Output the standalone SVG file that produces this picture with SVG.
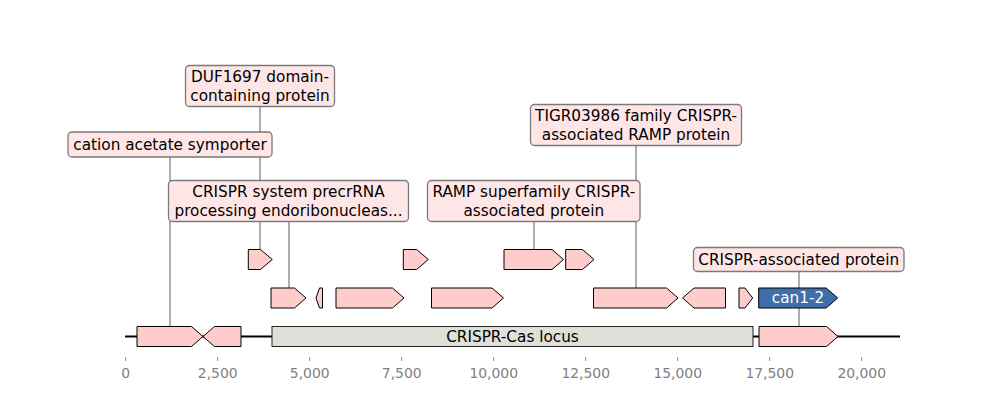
<svg xmlns="http://www.w3.org/2000/svg" width="1000" height="400" viewBox="0 0 1000 400">
<style>
text{font-family:"DejaVu Sans","Liberation Sans",sans-serif}
.f{fill:#ffcccc;stroke:#000;stroke-width:1}
.blue{fill:#3f6eaa;stroke:#000;stroke-width:1}
.locus{fill:#e0e0da;stroke:#222;stroke-width:1}
.box{fill:#ffe6e6;stroke:#7a7a7a;stroke-width:1.3}
.lt{font-size:15.28px;fill:#000;text-anchor:middle}
.lead{stroke:#333;stroke-width:0.8;fill:none}
.tick{stroke:#888;stroke-width:1}
.tl{font-size:13.9px;fill:#808080;text-anchor:middle}
</style>
<rect width="1000" height="400" fill="#fff"/>
<g id="axis">
<line x1="125" y1="336.5" x2="900" y2="336.5" stroke="#000" stroke-width="2"/>
<g class="tick">
<line x1="125.7" y1="357" x2="125.7" y2="361"/>
<line x1="217.7" y1="357" x2="217.7" y2="361"/>
<line x1="309.7" y1="357" x2="309.7" y2="361"/>
<line x1="401.7" y1="357" x2="401.7" y2="361"/>
<line x1="493.7" y1="357" x2="493.7" y2="361"/>
<line x1="585.7" y1="357" x2="585.7" y2="361"/>
<line x1="677.7" y1="357" x2="677.7" y2="361"/>
<line x1="769.7" y1="357" x2="769.7" y2="361"/>
<line x1="861.7" y1="357" x2="861.7" y2="361"/>
</g>
<g class="tl">
<text x="125.7" y="377.5">0</text>
<text x="217.7" y="377.5">2,500</text>
<text x="309.7" y="377.5">5,000</text>
<text x="401.7" y="377.5">7,500</text>
<text x="493.7" y="377.5">10,000</text>
<text x="585.7" y="377.5">12,500</text>
<text x="677.7" y="377.5">15,000</text>
<text x="769.7" y="377.5">17,500</text>
<text x="861.7" y="377.5">20,000</text>
</g>
</g>
<g id="connectors">
<line class="lead" x1="170" y1="157" x2="170" y2="326.5"/>
<line class="lead" x1="260" y1="107" x2="260" y2="249.5"/>
<line class="lead" x1="289" y1="222" x2="289" y2="288"/>
<line class="lead" x1="534" y1="222" x2="534" y2="249.5"/>
<line class="lead" x1="636" y1="146" x2="636" y2="288"/>
<line class="lead" x1="799" y1="271" x2="799" y2="326.5"/>
</g>
<g id="features">
<polygon id="f1" class="f" points="137,326.5 191.5,326.5 203,336.5 191.5,346.5 137,346.5"/>
<polygon id="f2" class="f" points="241,326.5 214.5,326.5 203,336.5 214.5,346.5 241,346.5"/>
<g id="locus"><rect class="locus" x="272" y="326.5" width="481" height="20"/><text class="lt" x="512.5" y="341.8">CRISPR-Cas locus</text></g>
<polygon id="f4" class="f" points="759,326.5 826.5,326.5 838,336.5 826.5,346.5 759,346.5"/>
<polygon id="f5" class="f" points="271,288 294.5,288 306,298 294.5,308 271,308"/>
<polygon id="f6" class="f" points="322.5,288 319.5,288 316,298 319.5,308 322.5,308"/>
<polygon id="f7" class="f" points="336,288 392.5,288 404,298 392.5,308 336,308"/>
<polygon id="f8" class="f" points="431.5,288 492,288 503.5,298 492,308 431.5,308"/>
<polygon id="f9" class="f" points="593.5,288 666.5,288 678,298 666.5,308 593.5,308"/>
<polygon id="f10" class="f" points="725.5,288 694,288 682.5,298 694,308 725.5,308"/>
<polygon id="f11" class="f" points="739,288 745,288 752.7,298 745,308 739,308"/>
<g id="can1-2"><polygon class="blue" points="758.7,288 826.2,288 837.7,298 826.2,308 758.7,308"/><text class="lt" x="798" y="303.3" style="fill:#fff">can1-2</text></g>
<polygon id="f13" class="f" points="248.3,249.5 260.5,249.5 272.3,259.5 260.5,269.5 248.3,269.5"/>
<polygon id="f14" class="f" points="403.3,249.5 416.7,249.5 428.3,259.5 416.7,269.5 403.3,269.5"/>
<polygon id="f15" class="f" points="504,249.5 552,249.5 563.5,259.5 552,269.5 504,269.5"/>
<polygon id="f16" class="f" points="565.7,249.5 582.5,249.5 594,259.5 582.5,269.5 565.7,269.5"/>
</g>
<g id="label-duf">
<rect class="box" x="185.5" y="65.5" width="149" height="41" rx="4"/>
<text class="lt" x="260" y="82.2">DUF1697 domain-</text>
<text class="lt" x="260" y="100.5">containing protein</text>
</g>
<g id="label-cation">
<rect class="box" x="68" y="132" width="204" height="25" rx="4"/>
<text class="lt" x="170" y="149.6">cation acetate symporter</text>
</g>
<g id="label-precrRNA">
<rect class="box" x="168.5" y="180.5" width="240" height="41" rx="4"/>
<text class="lt" x="288.5" y="197.2">CRISPR system precrRNA</text>
<text class="lt" x="288.5" y="215.5">processing endoribonucleas...</text>
</g>
<g id="label-tigr">
<rect class="box" x="530.5" y="104.5" width="211" height="41" rx="4"/>
<text class="lt" x="636" y="121.2">TIGR03986 family CRISPR-</text>
<text class="lt" x="636" y="139.5">associated RAMP protein</text>
</g>
<g id="label-ramp">
<rect class="box" x="427.5" y="180.5" width="212.5" height="41" rx="4"/>
<text class="lt" x="533.8" y="197.2">RAMP superfamily CRISPR-</text>
<text class="lt" x="533.8" y="215.5">associated protein</text>
</g>
<g id="label-cas">
<rect class="box" x="693.5" y="247.5" width="210.5" height="24" rx="4"/>
<text class="lt" x="798.7" y="264.8">CRISPR-associated protein</text>
</g>
</svg>
